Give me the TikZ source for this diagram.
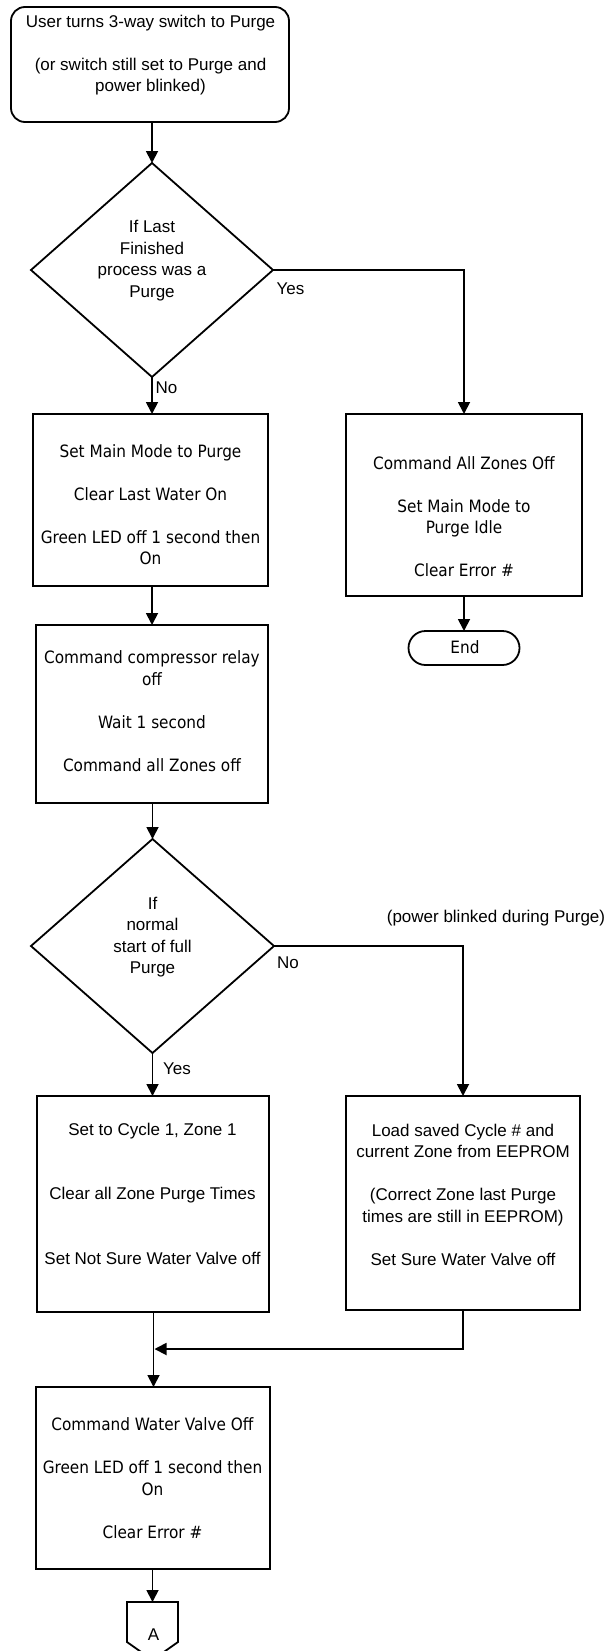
\documentclass[tikz,border=0pt]{standalone}
\usepackage{fontspec}
\setmainfont{Liberation Sans}
\newfontfamily\tahoma{DejaVu Sans Condensed}
\usetikzlibrary{shapes.geometric,arrows.meta}
\begin{document}
\begin{tikzpicture}[x=1pt,y=-1pt,
  every node/.style={inner sep=0pt, outer sep=0pt},
  box/.style={draw, line width=1.8pt, rectangle},
  rbox/.style={draw, line width=1.8pt, rectangle, rounded corners=14pt},
  dec/.style={draw, line width=1.8pt, diamond},
  term/.style={draw, line width=1.8pt, rectangle, rounded corners=17pt},
  atxt/.style={font=\fontsize{17}{21.5}\selectfont, align=center},
  ttxt/.style={font=\tahoma\fontsize{17}{21.5}\selectfont, align=center},
  arr/.style={line width=1.8pt, -{Triangle[length=12pt,width=12pt]}},
  ln/.style={line width=1.8pt}
]
\useasboundingbox (0,0) rectangle (609,1651);
\fill[white] (0,0) rectangle (609,1651);

% shapes
\node[rbox, minimum width=278pt, minimum height=115pt] (start) at (150,64.5) {};
\node[dec, minimum width=242pt, minimum height=214pt] (d1) at (152,270) {};
\node[box, minimum width=235pt, minimum height=172pt] (b1) at (150.5,500) {};
\node[box, minimum width=236pt, minimum height=182pt] (r1) at (464,505) {};
\node[term, minimum width=111pt, minimum height=34pt] (endn) at (464,648) {};
\node[box, minimum width=232pt, minimum height=178pt] (b2) at (152,714) {};
\node[dec, minimum width=243pt, minimum height=214pt] (d2) at (152.5,946) {};
\node[box, minimum width=232pt, minimum height=216pt] (b3) at (153,1204) {};
\node[box, minimum width=234pt, minimum height=214pt] (r3) at (463,1203) {};
\node[box, minimum width=234pt, minimum height=182pt] (b4) at (153,1478) {};
\coordinate (Atop) at (152.5,1602);
\draw[ln, line join=miter] (127,1602) -- (178,1602) -- (178,1642) -- (152.5,1660) -- (127,1642) -- cycle;

% texts
\node[atxt] (tstart) at (150.5,55) {User turns 3-way switch to Purge\\[21.5pt](or switch still set to Purge and\\power blinked)};
\node[atxt] (td1) at (152,260.5) {If Last\\Finished\\process was a\\Purge};
\node[ttxt] (tb1) at (150.5,504.5) {Set Main Mode to Purge\\[21.5pt]Clear Last Water On\\[21.5pt]Green LED off 1 second then\\On};
\node[ttxt] (tr1) at (464,516.5) {Command All Zones Off\\[21.5pt]Set Main Mode to\\Purge Idle\\[21.5pt]Clear Error \#};
\node[ttxt] (tend) at (465,647) {End};
\node[ttxt] (tb2) at (152,711) {Command compressor relay\\off\\[21.5pt]Wait 1 second\\[21.5pt]Command all Zones off};
\node[atxt] (td2) at (152.5,937) {If\\normal\\start of full\\Purge};
\node[atxt] (tb3) at (152.5,1193.5) {Set to Cycle 1, Zone 1\\[43pt]Clear all Zone Purge Times\\[43pt]Set Not Sure Water Valve off};
\node[atxt] (tr3) at (463,1194.5) {Load saved Cycle \# and\\current Zone from EEPROM\\[21.5pt](Correct Zone last Purge\\times are still in EEPROM)\\[21.5pt]Set Sure Water Valve off};
\node[ttxt] (tb4) at (152.5,1478) {Command Water Valve Off\\[21.5pt]Green LED off 1 second then\\On\\[21.5pt]Clear Error \#};
\node[atxt] (tA) at (153.5,1635) {A};

% labels
\node[atxt] (lyes1) at (290.5,289) {Yes};
\node[atxt] (lno1) at (166.5,388) {No};
\node[atxt] (lpb) at (496,918) {(power blinked during Purge)};
\node[atxt] (lno2) at (288,963) {No};
\node[atxt] (lyes2) at (177,1069) {Yes};

% connectors
\draw[arr] (start.south -| d1.north) -- (d1.north);
\draw[arr] (d1.east) -| (r1.north);
\draw[arr] (d1.south) -- (d1.south |- b1.north);
\draw[arr] (r1.south) -- (endn.north);
\draw[arr] (b1.south -| d1.south) -- (b2.north -| d1.south);
\draw[arr] (b2.south -| d2.north) -- (d2.north);
\draw[arr] (d2.east) -| (r3.north);
\draw[arr] (d2.south) -- (d2.south |- b3.north);
\draw[arr] (b3.south -| tA) -- (b4.north -| tA);
\coordinate (m) at (154.5,1349);
\draw[arr] (r3.south) |- (m);
\draw[arr] (b4.south -| Atop) -- (Atop);
\end{tikzpicture}
\end{document}
